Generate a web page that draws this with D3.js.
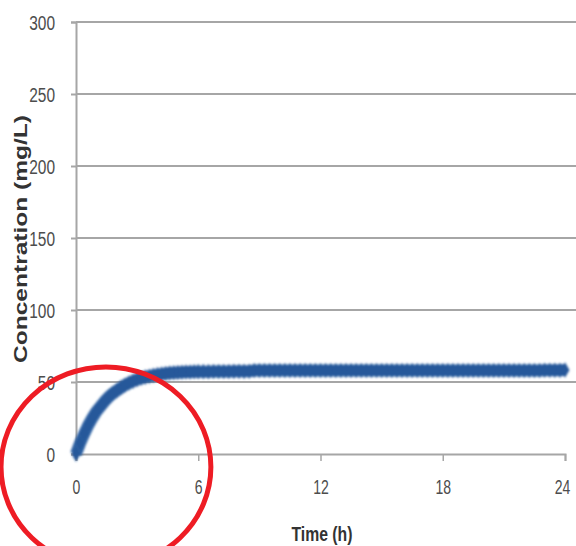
<!DOCTYPE html>
<html>
<head>
<meta charset="utf-8">
<script src="https://cdn.jsdelivr.net/npm/d3@7/dist/d3.min.js"></script>
<style>
  html, body { margin: 0; padding: 0; background: #ffffff; }
  svg { display: block; }
</style>
</head>
<body>
<svg id="chart" width="576" height="546"></svg>
<script>
// ---- data ----
const xTicks = [0, 6, 12, 18, 24];
const yTicks = [0, 50, 100, 150, 200, 250, 300];
const xTitle = "Time (h)";
const yTitle = "Concentration (mg/L)";

const timeH = [
  0, 0.2, 0.4, 0.6, 0.8, 1.0, 1.2, 1.4, 1.6, 1.8, 2.0, 2.2, 2.4, 2.6, 2.8, 3.0,
  3.2, 3.4, 3.6, 3.8, 4.0, 4.2, 4.4, 4.6, 4.8, 5.0, 5.2, 5.4, 5.6, 5.8, 6.0,
  6.25, 6.5, 6.75, 7.0, 7.25, 7.5, 7.75, 8.0, 8.25, 8.5, 8.75, 9.0,
  9.25, 9.5, 9.75, 10.0, 10.25, 10.5, 10.75, 11.0, 11.25, 11.5, 11.75, 12.0,
  12.25, 12.5, 12.75, 13.0, 13.25, 13.5, 13.75, 14.0, 14.25, 14.5, 14.75, 15.0,
  15.25, 15.5, 15.75, 16.0, 16.25, 16.5, 16.75, 17.0, 17.25, 17.5, 17.75, 18.0,
  18.25, 18.5, 18.75, 19.0, 19.25, 19.5, 19.75, 20.0, 20.25, 20.5, 20.75, 21.0,
  21.25, 21.5, 21.75, 22.0, 22.25, 22.5, 22.75, 23.0, 23.25, 23.5, 23.75, 24.0
];
const concMgL = [
  0, 7.5, 14, 20, 25, 29.5, 33, 36.5, 39.5, 42, 44, 46, 47.8, 49.3, 50.6, 51.7,
  52.6, 53.4, 54, 54.6, 55.1, 55.5, 55.9, 56.2, 56.4, 56.6, 56.8, 56.9, 57, 57.1, 57.2,
  57.2, 57.2, 57.3, 57.3, 57.3, 57.3, 57.4, 57.4, 57.4, 57.5, 58.0, 58.0,
  58.0, 58.0, 58.0, 58.0, 58.0, 58.0, 58.0, 58.0, 58.0, 58.0, 58.0, 58.0,
  58.0, 58.0, 58.0, 58.0, 58.0, 58.0, 58.0, 58.0, 58.0, 58.0, 58.0, 58.0,
  58.0, 58.0, 58.0, 58.0, 58.0, 58.0, 58.0, 58.0, 58.0, 58.0, 58.0, 58.0,
  58.0, 58.0, 58.0, 58.0, 58.0, 58.0, 58.0, 58.0, 58.0, 58.0, 58.0, 58.0,
  58.0, 58.0, 58.0, 58.0, 58.0, 58.0, 58.0, 58.2, 58.2, 58.2, 58.2, 58.3
];

// annotation ellipse (in data units)
const circleCenter = { t: 1.47, c: -9 };
const circleRadius = { t: 5.15, c: 69.5 };

// ---- drawing ----
const svg = d3.select("#chart");
const W = 576, H = 546;
const mLeft = 76, mRight = 565, mTop = 22, mBottom = 454;

const x = d3.scaleLinear().domain([0, 24]).range([mLeft, mRight]);
const y = d3.scaleLinear().domain([0, 300]).range([mBottom, mTop]);

const gridColor = "#a6a6a6";
const textColor = "#4d4d4d";
const labelFont = "'Liberation Sans', Arial, sans-serif";

const defs = svg.append("defs");
defs.append("filter").attr("id", "soft")
  .attr("x", "-10%").attr("y", "-10%").attr("width", "120%").attr("height", "120%")
  .append("feGaussianBlur").attr("stdDeviation", 0.9);

// horizontal gridlines
svg.append("g").selectAll("line").data(yTicks.filter(d => d > 0)).join("line")
  .attr("x1", mLeft).attr("x2", W)
  .attr("y1", d => y(d)).attr("y2", d => y(d))
  .attr("stroke", gridColor).attr("stroke-width", 2);

// y axis
const yAxis = d3.axisLeft(y).tickValues(yTicks).tickSize(5).tickPadding(16);
const gy = svg.append("g").attr("transform", `translate(${mLeft},0)`).call(yAxis);
gy.select(".domain").attr("stroke", gridColor).attr("stroke-width", 2);
gy.selectAll(".tick line").attr("stroke", gridColor).attr("stroke-width", 2);
gy.selectAll(".tick text")
  .attr("fill", textColor).attr("font-family", labelFont)
  .attr("font-size", 20).attr("dy", "0.36em")
  .attr("textLength", d => String(d).length * 8.6)
  .attr("lengthAdjust", "spacingAndGlyphs");

// x axis
const xAxis = d3.axisBottom(x).tickValues(xTicks).tickSize(7).tickPadding(19);
const gx = svg.append("g").attr("transform", `translate(0,${mBottom})`).call(xAxis);
gx.select(".domain").attr("stroke", gridColor).attr("stroke-width", 2);
gx.selectAll(".tick line").attr("stroke", gridColor).attr("stroke-width", 1.5);
gx.selectAll(".tick text")
  .attr("fill", textColor).attr("font-family", labelFont)
  .attr("font-size", 20)
  .attr("textLength", d => String(d).length * 7.8)
  .attr("lengthAdjust", "spacingAndGlyphs")
  .attr("dx", d => d === 24 ? -3 : 0);

// axis titles
svg.append("text")
  .attr("x", 322).attr("y", 541)
  .attr("text-anchor", "middle")
  .attr("font-family", labelFont).attr("font-weight", "bold")
  .attr("font-size", 20).attr("fill", "#333333")
  .attr("textLength", 61).attr("lengthAdjust", "spacingAndGlyphs")
  .text(xTitle);

svg.append("text")
  .attr("transform", "translate(27,239) rotate(-90)")
  .attr("text-anchor", "middle")
  .attr("font-family", labelFont).attr("font-weight", "bold")
  .attr("font-size", 19).attr("fill", "#333333")
  .attr("textLength", 248).attr("lengthAdjust", "spacingAndGlyphs")
  .text(yTitle);

// data markers (diamonds) over a thick band joining them
const pts = timeH.map((t, i) => ({ t, c: concMgL[i] }));
const gm = svg.append("g").attr("filter", "url(#soft)");
gm.append("path")
  .datum(pts)
  .attr("d", d3.line().x(d => x(d.t)).y(d => y(d.c)))
  .attr("fill", "none").attr("stroke", "#2f62a3")
  .attr("stroke-width", 12).attr("stroke-linejoin", "round");
const diamond = d3.symbol().type(d3.symbolDiamond).size(70);
gm.selectAll("path.m").data(pts).join("path")
  .attr("class", "m")
  .attr("d", diamond)
  .attr("transform", d => `translate(${x(d.t)},${y(d.c)})`)
  .attr("fill", "#28589a");

// red annotation ellipse
svg.append("ellipse")
  .attr("cx", x(circleCenter.t)).attr("cy", y(circleCenter.c))
  .attr("rx", x(circleRadius.t) - x(0))
  .attr("ry", y(0) - y(circleRadius.c))
  .attr("fill", "none").attr("stroke", "#ee1c24").attr("stroke-width", 5);
</script>
</body>
</html>
